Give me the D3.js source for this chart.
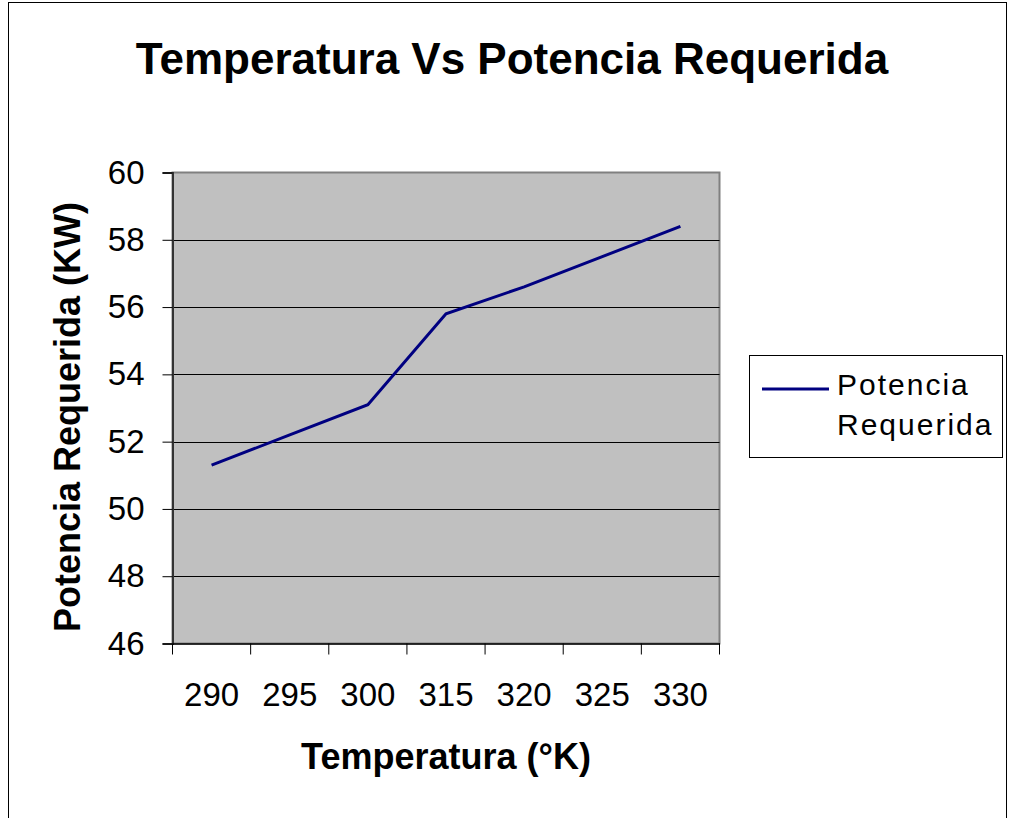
<!DOCTYPE html>
<html>
<head>
<meta charset="utf-8">
<script src="https://cdn.jsdelivr.net/npm/d3@7"></script>
<style>
  html, body { margin: 0; padding: 0; background: #fff; }
  svg { display: block; }
  text { font-family: "Liberation Sans", Arial, sans-serif; fill: #000; }
</style>
</head>
<body>
<script>
// Temperature categories (°K) and required power (KW)
const temperaturas = ["290", "295", "300", "315", "320", "325", "330"];
const potencia = [51.3, 52.2, 53.1, 55.8, 56.6, 57.5, 58.4];
const yTicks = [46, 48, 50, 52, 54, 56, 58, 60];
const seriesName = ["Potencia", "Requerida"];

const W = 1010, H = 818;
const plot = { left: 172.5, right: 719.5, top: 172.5, bottom: 643.5 };
const FONT = "'Liberation Sans', Arial, sans-serif";

const svg = d3.select("body").append("svg")
  .attr("width", W).attr("height", H);

// outer chart frame
svg.append("rect")
  .attr("x", 8.5).attr("y", 2.5)
  .attr("width", 998).attr("height", 830)
  .attr("fill", "#fff").attr("stroke", "#000").attr("stroke-width", 1);

const x = d3.scaleBand().domain(temperaturas).range([plot.left, plot.right]).padding(0);
const y = d3.scaleLinear().domain([46, 60]).range([plot.bottom, plot.top]);

// plot background
svg.append("rect")
  .attr("x", plot.left).attr("y", plot.top)
  .attr("width", plot.right - plot.left).attr("height", plot.bottom - plot.top)
  .attr("fill", "#c0c0c0").attr("stroke", "#808080").attr("stroke-width", 2);

// horizontal gridlines
svg.append("g").selectAll("line")
  .data(yTicks.filter(d => d > 46 && d < 60))
  .join("line")
  .attr("x1", plot.left).attr("x2", plot.right)
  .attr("y1", d => Math.round(y(d)) + 0.5).attr("y2", d => Math.round(y(d)) + 0.5)
  .attr("stroke", "#000").attr("stroke-width", 1);

// y axis
const yAxis = svg.append("g")
  .attr("transform", `translate(${plot.left},0)`)
  .call(d3.axisLeft(y).tickValues(yTicks).tickSize(10).tickPadding(18).tickFormat(d3.format("d")));
yAxis.select(".domain").attr("stroke", "#333").attr("stroke-width", 2);
yAxis.selectAll(".tick line").attr("stroke", "#000");
yAxis.selectAll(".tick text")
  .style("font-family", FONT)
  .style("font-size", "33px").attr("fill", "#000");

// x axis: labels centred on each category, ticks on category boundaries
const xAxis = svg.append("g")
  .attr("transform", `translate(0,${plot.bottom})`)
  .call(d3.axisBottom(x).tickSize(0).tickPadding(39));
xAxis.select(".domain").attr("stroke", "#000").attr("stroke-width", 1.5);
xAxis.selectAll(".tick text")
  .style("font-family", FONT)
  .style("font-size", "33px").attr("fill", "#000");

const boundaries = temperaturas.map(d => x(d)).concat([x(temperaturas[temperaturas.length - 1]) + x.bandwidth()]);
svg.append("g").selectAll("line")
  .data(boundaries)
  .join("line")
  .attr("x1", d => d).attr("x2", d => d)
  .attr("y1", plot.bottom).attr("y2", plot.bottom + 11)
  .attr("stroke", "#000").attr("stroke-width", 1);

// data line
const line = d3.line()
  .x((d, i) => x(temperaturas[i]) + x.bandwidth() / 2)
  .y(d => y(d));
svg.append("path")
  .datum(potencia)
  .attr("d", line)
  .attr("fill", "none")
  .attr("stroke", "#000080")
  .attr("stroke-width", 3)
  .attr("stroke-linejoin", "miter");

// title
svg.append("text")
  .attr("x", 512).attr("y", 74)
  .attr("text-anchor", "middle")
  .style("font-size", "44px").style("font-weight", "bold")
  .text("Temperatura Vs Potencia Requerida");

// axis titles
svg.append("text")
  .attr("x", 446).attr("y", 769)
  .attr("text-anchor", "middle")
  .style("font-size", "36px").style("font-weight", "bold")
  .text("Temperatura (°K)");

svg.append("text")
  .attr("transform", "translate(80,417) rotate(-90)")
  .attr("text-anchor", "middle")
  .style("font-size", "36px").style("font-weight", "bold")
  .text("Potencia Requerida (KW)");

// legend
const lg = svg.append("g");
lg.append("rect")
  .attr("x", 749.5).attr("y", 355.5)
  .attr("width", 253).attr("height", 102)
  .attr("fill", "#fff").attr("stroke", "#000").attr("stroke-width", 1);
lg.append("line")
  .attr("x1", 762).attr("x2", 829)
  .attr("y1", 389).attr("y2", 389)
  .attr("stroke", "#000080").attr("stroke-width", 3);
lg.selectAll("text.item")
  .data(seriesName)
  .join("text")
  .attr("class", "item")
  .attr("x", 837)
  .attr("y", (d, i) => 395 + i * 40)
  .style("font-size", "30px")
  .style("letter-spacing", "2px")
  .text(d => d);
</script>
</body>
</html>
